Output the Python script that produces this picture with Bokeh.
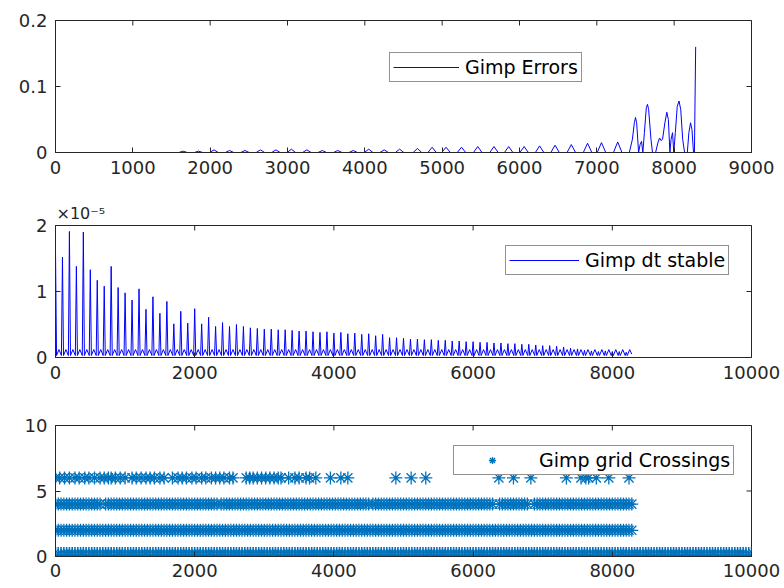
import numpy as np
from bokeh.plotting import figure
from bokeh.models import (Range1d, FixedTicker, LinearAxis, Legend, LegendItem,
                          Title, CustomJSTickFormatter)
from bokeh.layouts import column
from bokeh.embed import file_html
from bokeh.resources import INLINE

# ---------------- data ----------------
# Panel 1: Gimp Errors - small bumps (centre x, height) then the large tail
err_bump_x = [1650, 1850, 2050, 2250, 2450, 2650, 2850, 3050, 3250, 3450, 3650,
              3850, 4050, 4250, 4450, 4680, 4870, 5050, 5250, 5460, 5670, 5860,
              6060, 6260, 6460, 6670, 6880, 7060, 7270]
err_bump_y = [0.002, 0.002, 0.004, 0.003, 0.003, 0.004, 0.004, 0.005, 0.004, 0.003,
              0.003, 0.003, 0.005, 0.004, 0.005, 0.006, 0.008, 0.008, 0.008, 0.009,
              0.009, 0.009, 0.009, 0.010, 0.011, 0.012, 0.014, 0.015, 0.016]
err_tail_x = [7420, 7460, 7485, 7500, 7515, 7540, 7560, 7578, 7595, 7615, 7640, 7655,
              7670, 7700, 7720, 7760, 7790, 7811, 7830, 7850, 7880, 7905, 7925, 7945,
              7960, 7979, 7995, 8015, 8040, 8063, 8085, 8110, 8135, 8170, 8190, 8212,
              8230, 8250, 8262, 8278]
err_tail_y = [0.0, 0.02, 0.045, 0.053, 0.045, 0.0, 0.012, 0.017, 0.0, 0.03, 0.068, 0.073,
              0.065, 0.02, 0.0, 0.0, 0.015, 0.022, 0.018, 0.02, 0.045, 0.061, 0.05, 0.0,
              0.02, 0.03, 0.0, 0.03, 0.07, 0.078, 0.065, 0.02, 0.0, 0.0, 0.03, 0.045,
              0.035, 0.0, 0.0, 0.16]
bump_offsets = [-55, 0, 55]
bump_profile = [0.0, 1.0, 0.0]

# Panel 2: Gimp dt stable - spike every 100 steps, heights in 1e-5
dt_spike_x = list(range(0, 8300, 100))
dt_spike_h = [1.61, 1.52, 1.91, 1.38, 1.90, 1.33, 1.17, 1.08, 1.38, 1.06, 0.98, 0.87,
              1.04, 0.73, 0.92, 0.67, 0.85, 0.51, 0.70, 0.52, 0.74,
              0.51, 0.61, 0.47, 0.53, 0.47, 0.50, 0.47, 0.45, 0.44,
              0.43, 0.43, 0.42, 0.42, 0.41, 0.40, 0.40, 0.39, 0.38, 0.39,
              0.37, 0.38, 0.36, 0.37, 0.35, 0.36, 0.33, 0.35, 0.30, 0.30,
              0.29, 0.28, 0.28, 0.27, 0.27, 0.26, 0.26, 0.25, 0.25, 0.24,
              0.24, 0.23, 0.23, 0.22, 0.22, 0.21, 0.21, 0.20, 0.20, 0.19,
              0.18, 0.18, 0.17, 0.16, 0.14, 0.13, 0.11, 0.10, 0.09, 0.10,
              0.09, 0.09, 0.08]
dt_between_offsets = [15, 50, 85]
dt_between_values = [0.03, 0.12, 0.03]
dt_end_x = 8280
dt_end_y = 0.05
DT_UNIT = 1e-5

# Panel 3: Gimp grid Crossings - levels and where markers appear
cross_level6_x = [0, 60, 130, 200, 280, 340, 420, 480, 560, 640, 700, 760, 800, 860,
                  930, 1000, 1100, 1160, 1230, 1300, 1360, 1420, 1500, 1560, 1680,
                  1760, 1820, 1880, 1960, 2020, 2100, 2160, 2240, 2300, 2360, 2420,
                  2500, 2550, 2740, 2790, 2840, 2900, 2960, 3020, 3080, 3140, 3200,
                  3240, 3350, 3440, 3500, 3600, 3650, 3740, 3950, 4100, 4200, 4890,
                  5110, 5320, 6370, 6580, 6830, 7340, 7550, 7620, 7660, 7770, 7950,
                  8240]
cross_level4_runs = [(0, 640), (720, 1560), (1600, 2320), (2380, 3100), (3140, 4500),
                     (4560, 6300), (6380, 6800), (6880, 8280)]
cross_level2_runs = [(0, 8300)]
cross_level0_runs = [(0, 10000)]
run_step = 40

# ---------------- build series ----------------
ex, ey = [0.0], [0.0]
for cx, h in zip(err_bump_x, err_bump_y):
    for o, f in zip(bump_offsets, bump_profile):
        ex.append(cx + o)
        ey.append(h * f)
ex += err_tail_x
ey += err_tail_y

dx, dy = [], []
for s, h in zip(dt_spike_x, dt_spike_h):
    dx.append(s)
    dy.append(h * DT_UNIT)
    for o, v in zip(dt_between_offsets, dt_between_values):
        if s + o < dt_end_x:
            dx.append(s + o)
            dy.append(v * DT_UNIT)
dx.append(dt_end_x)
dy.append(dt_end_y * DT_UNIT)


def expand_runs(runs, level):
    xs_all, ys_all = [], []
    for a, b in runs:
        xs = np.arange(a, b + 1, run_step)
        xs_all.extend(xs.tolist())
        ys_all.extend([level] * len(xs))
    return xs_all, ys_all


cx0, cy0 = expand_runs(cross_level0_runs, 0)
cx2, cy2 = expand_runs(cross_level2_runs, 2)
cx4, cy4 = expand_runs(cross_level4_runs, 4)
cx3 = cx2 + cx4 + cross_level6_x
cy3 = cy2 + cy4 + [6] * len(cross_level6_x)

# ---------------- styling helpers ----------------
FONT = "DejaVu Sans"
AX = "#262626"
TICK_SIZE = "18px"
LEG_SIZE = "19px"
W = 784


def make_fig(height, top, bottom, xr, yr):
    p = figure(width=W, height=height, x_range=Range1d(*xr), y_range=Range1d(*yr),
               output_backend="svg", toolbar_location=None,
               min_border_left=55, min_border_right=W - 751,
               min_border_top=top, min_border_bottom=bottom,
               x_axis_location=None, y_axis_location=None)
    p.outline_line_color = AX
    p.outline_line_width = 1
    p.background_fill_color = "white"
    p.border_fill_color = "white"
    p.xgrid.visible = False
    p.ygrid.visible = False
    return p


def add_axis(p, loc, ticks, fmt=None, standoff=8):
    a = LinearAxis(ticker=FixedTicker(ticks=ticks, minor_ticks=[]))
    a.axis_line_color = AX
    a.major_tick_line_color = AX
    a.major_tick_in = 5
    a.major_tick_out = 0
    a.minor_tick_line_color = None
    a.major_label_text_font = FONT
    a.major_label_text_font_size = TICK_SIZE
    a.major_label_text_color = AX
    a.major_label_standoff = standoff
    if fmt is not None:
        a.formatter = fmt
    p.add_layout(a, loc)


def add_box_ticks(p, xticks, yticks, xr, yr):
    # inward ticks on the top and right edges (half of each dash is clipped away)
    p.scatter(xticks, [yr[1]] * len(xticks), marker="dash", angle=np.pi / 2, size=10,
              line_color=AX, line_width=1)
    p.scatter([xr[1]] * len(yticks), yticks, marker="dash", size=10,
              line_color=AX, line_width=1)


def add_legend(p, label, r, loc, gw, so):
    leg = Legend(items=[LegendItem(label=label, renderers=[r])], location=loc,
                 margin=0, padding=3, spacing=0,
                 glyph_width=gw, glyph_height=18, label_height=18,
                 label_standoff=so,
                 label_text_font=FONT, label_text_font_size=LEG_SIZE,
                 label_text_color="black",
                 border_line_color=AX, border_line_width=1,
                 background_fill_color="white", background_fill_alpha=1.0)
    p.add_layout(leg)


plain_fmt = CustomJSTickFormatter(code="return tick.toString();")
dt_fmt = CustomJSTickFormatter(code="return (tick * 1e5).toFixed(0);")

# ---------------- panel 1 ----------------
xr1, yr1 = (0, 9000), (0, 0.2)
p1 = make_fig(198, 20, 46, xr1, yr1)
r1 = p1.line(ex, ey, line_color="#0000ff", line_width=1)
xt1 = list(range(0, 9001, 1000))
yt1 = [0, 0.1, 0.2]
add_axis(p1, "below", xt1)
add_axis(p1, "left", yt1, fmt=plain_fmt)
add_box_ticks(p1, xt1, yt1, xr1, yr1)
add_legend(p1, "Gimp Errors", r1, (334, 70), 66, 6)

# ---------------- panel 2 ----------------
xr2, yr2 = (0, 10000), (0, 2e-5)
p2 = make_fig(200, 26, 41, xr2, yr2)
r2 = p2.line(dx, dy, line_color="#0000ff", line_width=1)
xt2 = list(range(0, 10001, 2000))
yt2 = [0, 1e-5, 2e-5]
add_axis(p2, "below", xt2)
add_axis(p2, "left", yt2, fmt=dt_fmt)
add_box_ticks(p2, xt2, yt2, xr2, yr2)
add_legend(p2, "Gimp dt stable", r2, (450, 82), 70, 6)
p2.add_layout(Title(text="×10⁻⁵", align="left", offset=1, standoff=6,
                    text_font=FONT, text_font_size="16px", text_font_style="normal",
                    text_color=AX), "above")

# ---------------- panel 3 ----------------
xr3, yr3 = (0, 10000), (0, 10)
p3 = make_fig(190, 27, 32, xr3, yr3)
# level-0 row sits on the frame edge, where half of every marker is clipped;
# larger markers keep the visible band as thick as in the reference
p3.scatter(cx0, cy0, marker="asterisk", size=19, line_color="#0072bd", line_width=1.6)
r3 = p3.scatter(cx3, cy3, marker="asterisk", size=13, line_color="#0072bd",
                line_width=1.3)
xt3 = list(range(0, 10001, 2000))
yt3 = [0, 5, 10]
add_axis(p3, "below", xt3, standoff=7)
add_axis(p3, "left", yt3)
add_box_ticks(p3, xt3, yt3, xr3, yr3)
add_legend(p3, "Gimp grid Crossings", r3, (398, 81), 70, 12)

layout = column(p1, p2, p3, spacing=0)
open("out.html", "w").write(file_html(layout, INLINE))
